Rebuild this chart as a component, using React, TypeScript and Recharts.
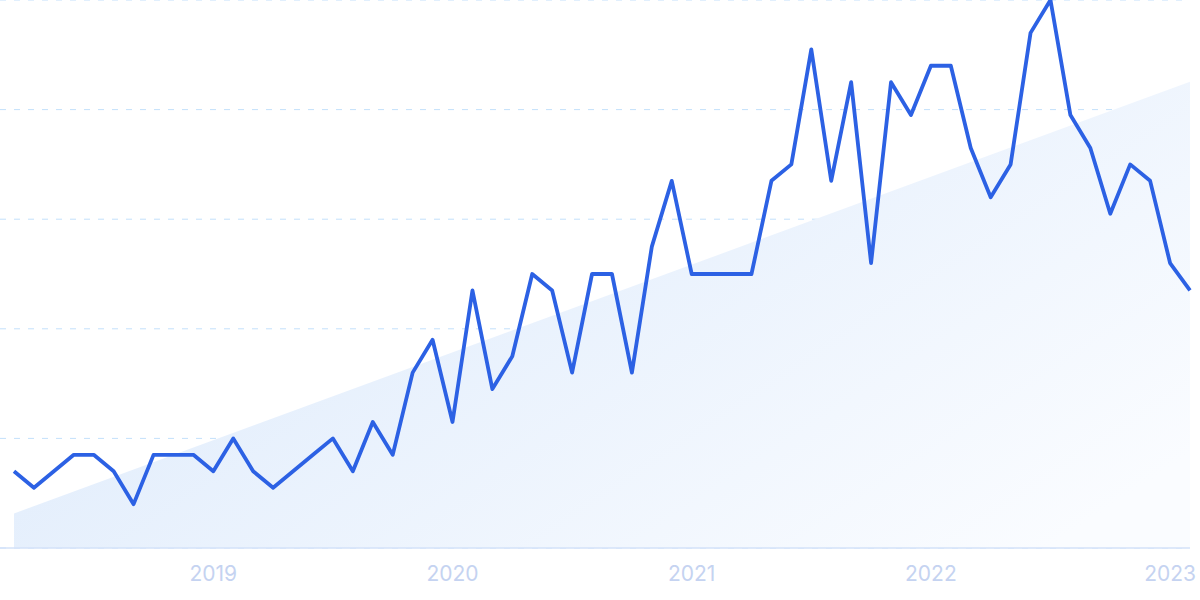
import React from "react";
import { ComposedChart, Line, Area, XAxis, YAxis, CartesianGrid } from "recharts";

const months = [
  "2018-03", "2018-04", "2018-05", "2018-06", "2018-07", "2018-08", "2018-09", "2018-10", "2018-11", "2018-12",
  "2019-01", "2019-02", "2019-03", "2019-04", "2019-05", "2019-06", "2019-07", "2019-08", "2019-09", "2019-10",
  "2019-11", "2019-12", "2020-01", "2020-02", "2020-03", "2020-04", "2020-05", "2020-06", "2020-07", "2020-08",
  "2020-09", "2020-10", "2020-11", "2020-12", "2021-01", "2021-02", "2021-03", "2021-04", "2021-05", "2021-06",
  "2021-07", "2021-08", "2021-09", "2021-10", "2021-11", "2021-12", "2022-01", "2022-02", "2022-03", "2022-04",
  "2022-05", "2022-06", "2022-07", "2022-08", "2022-09", "2022-10", "2022-11", "2022-12", "2023-01", "2023-02",
];

const interest = [
  14, 11, 14, 17, 17, 14, 8, 17, 17, 17,
  14, 20, 14, 11, 14, 17, 20, 14, 23, 17,
  32, 38, 23, 47, 29, 35, 50, 47, 32, 50,
  50, 32, 55, 67, 50, 50, 50, 50, 67, 70,
  91, 67, 85, 52, 85, 79, 88, 88, 73, 64,
  70, 94, 100, 79, 73, 61, 70, 67, 52, 47,
];

const trendStart = 6.3;
const trendEnd = 85.1;

const yearTicks = ["2019-01", "2020-01", "2021-01", "2022-01", "2023-01"];
const yearLabels = ["2019", "2020", "2021", "2022", "2023"];

const data = months.map((m, i) => ({
  month: m,
  interest: interest[i],
  trend: i === 0 ? trendStart : i === months.length - 1 ? trendEnd : null,
}));

export default function App() {
  return (
    <div style={{ position: "fixed", left: 0, top: 0, width: 1200, height: 600, background: "#ffffff" }}>
      <ComposedChart
        width={1200}
        height={600}
        data={data}
        margin={{ top: 0, right: 10, left: 0, bottom: 0 }}
      >
        <defs>
          <linearGradient id="trendFill" x1="0" y1="0.2" x2="1" y2="0.8">
            <stop offset="0%" stopColor="#dbe9fb" />
            <stop offset="100%" stopColor="#fafcff" />
          </linearGradient>
        </defs>
        <CartesianGrid horizontal vertical={false} stroke="#c3e0fb" strokeDasharray="6 8" />
        <XAxis
          dataKey="month"
          ticks={yearTicks}
          tickFormatter={(v: string) => yearLabels[yearTicks.indexOf(v)] ?? v}
          height={52}
          padding={{ left: 14, right: 0 }}
          axisLine={{ stroke: "#d3e2f8", strokeWidth: 1.5 }}
          tickLine={false}
          tickSize={6}
          tickMargin={12}
          interval={0}
          tick={{ fill: "#c5d3f1", fontSize: 21, fontFamily: "Inter, sans-serif" }}
        />
        <YAxis hide domain={[0, 100]} ticks={[0, 20, 40, 60, 80, 100]} />
        <Area
          type="linear"
          dataKey="trend"
          connectNulls
          stroke="none"
          fill="url(#trendFill)"
          fillOpacity={1}
          isAnimationActive={false}
          dot={false}
          activeDot={false}
        />
        <Line
          type="linear"
          dataKey="interest"
          stroke="#2c61e4"
          strokeWidth={3.8}
          strokeLinejoin="round"
          dot={false}
          activeDot={false}
          isAnimationActive={false}
        />
      </ComposedChart>
    </div>
  );
}
